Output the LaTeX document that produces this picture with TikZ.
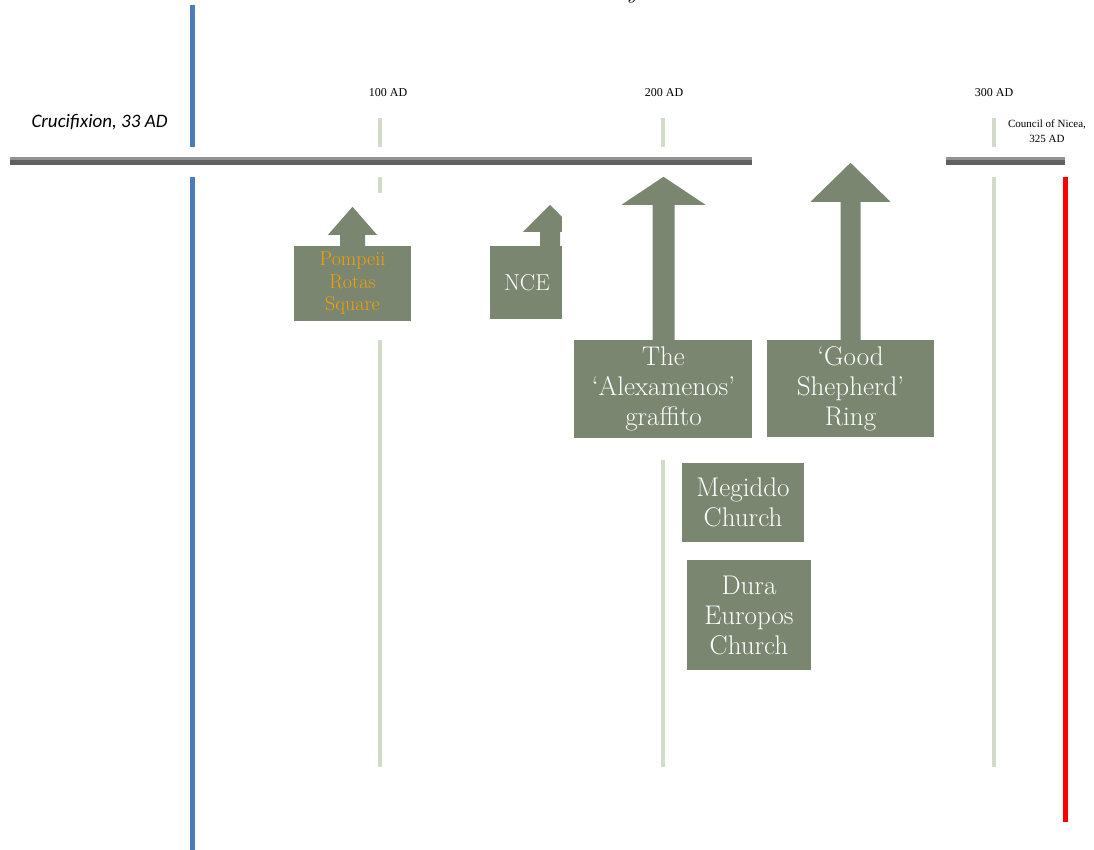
\documentclass[tikz,border=0pt]{standalone}
\usepackage{fontspec}
\newfontfamily\crossfont{Carlito}
\newfontfamily\datefont{Liberation Serif}
\usetikzlibrary{positioning}

\definecolor{evgreen}{RGB}{123,134,113}
\definecolor{yeargreen}{RGB}{210,219,200}
\definecolor{crossblue}{RGB}{74,126,187}
\definecolor{niceared}{RGB}{255,0,0}
\definecolor{axisdark}{RGB}{96,96,96}
\definecolor{axislight}{RGB}{145,145,145}
\definecolor{rotasorange}{RGB}{245,160,0}

\begin{document}
\begin{tikzpicture}[x=1pt,y=-1pt,
  evbox/.style={fill=evgreen,text=white,inner sep=0pt,align=center,font=\fontsize{27}{30}\selectfont},
  datelbl/.style={font=\datefont\fontsize{12}{14}\selectfont},
  yearline/.style={yeargreen,line width=4pt},
  patch/.style={fill=white}]
 \useasboundingbox (0,0) rectangle (1094,850);
 \fill[white](0,0) rectangle (1094,850);
 % year lines and the two limits
 \draw[yearline](380,118)--(380,767);
 \draw[yearline](663,118)--(663,767);
 \draw[yearline](994,118)--(994,767);
 \draw[line width=5pt,crossblue](192,5)--(192,850);
 \draw[line width=5pt,niceared](1065,177)--(1065,822);
 % time axis
 \fill[patch](8,147) rectangle (1072,177);
 \draw[line width=5pt,axisdark](10,162.5)--(1065,162.5);
 \draw[line width=3pt,axislight](10,158.5)--(1065,158.5);
 \node[font=\itshape\fontsize{24}{24}\selectfont,anchor=base] (title) at (632,-1) {y};
 \node[datelbl] (ad100) at (388,93) {100 AD};
 \node[datelbl] (ad200) at (664,93) {200 AD};
 \node[datelbl] (ad300) at (994,93) {300 AD};
 \node[font=\datefont\fontsize{11}{15}\selectfont,align=center] (nicea) at (1047,131) {Council of Nicea,\\325 AD};
 \node[font=\crossfont\itshape\fontsize{19}{22}\selectfont,anchor=east] (crux) at (171,122) {Crucifixion, 33 AD};
 % Pompeii
 \fill[patch](288,193) rectangle (416,340);
 \node[evbox,minimum width=117pt,minimum height=75pt,text=rotasorange,font=\fontsize{20}{22.5}\selectfont] (pompeii) at (352.5,283.5) {Pompeii\\Rotas\\Square};
 \fill[evgreen](pompeii.north) ++(-12.5,0) -- ++(0,-11) -- ++(-12,0) -- ++(24.5,-28) -- ++(24.5,28) -- ++(-12,0) -- ++(0,11) -- cycle;
 % NCE
 \node[evbox,minimum width=120pt,minimum height=73pt,text width=92pt,align=left,font=\fontsize{23}{26}\selectfont] (nce) at (550,282.5) {NCE};
 \fill[evgreen](nce.north) ++(-10,0) -- ++(0,-14) -- ++(-17,0) -- ++(27,-27) -- ++(27,27) -- ++(-17,0) -- ++(0,14) -- cycle;
 % Alexamenos
 \fill[patch](562,177) rectangle (760,460);
 \node[evbox,minimum width=179pt,minimum height=98pt] (alex) at (663.5,389) {The\\‘Alexamenos’\\graffito};
 \fill[evgreen](alex.north) ++(-11,0) -- ++(0,-135) -- ++(-31,0) -- ++(42,-28) -- ++(42,28) -- ++(-31,0) -- ++(0,135) -- cycle;
 % Good Shepherd
 \fill[patch](752,147) rectangle (946,445);
 \node[evbox,minimum width=167pt,minimum height=97pt] (shepherd) at (850.5,388.5) {‘Good\\Shepherd’\\Ring};
 \fill[evgreen](shepherd.north) ++(-10,0) -- ++(0,-138) -- ++(-30,0) -- ++(40,-39) -- ++(40,39) -- ++(-30,0) -- ++(0,138) -- cycle;
 % churches
 \fill[patch](667,460) rectangle (808,556);
 \node[evbox,minimum width=122pt,minimum height=79pt] (megiddo) at (743,502.5) {Megiddo\\Church};
 \fill[patch](667,556) rectangle (815,675);
 \node[evbox,minimum width=124pt,minimum height=110pt] (dura) at (749,615) {Dura\\Europos\\Church};
\end{tikzpicture}
\end{document}
